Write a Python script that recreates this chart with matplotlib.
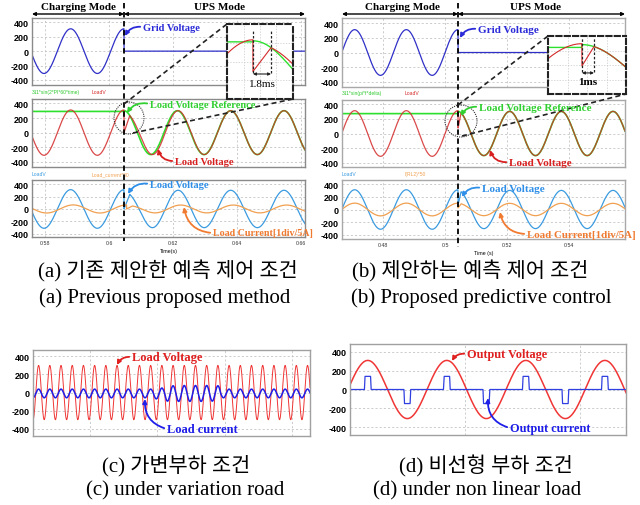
import numpy as np
import matplotlib
matplotlib.use("Agg")
import matplotlib.pyplot as plt
from matplotlib.patches import Ellipse

W, H = 640, 506
SERIF = ["Liberation Serif", "DejaVu Serif"]
SANS = ["Liberation Sans", "DejaVu Sans"]
CAPTION = ["Liberation Serif", "Noto Sans CJK KR"]

YTICKS = [-400, -200, 0, 200, 400]
FREQ = 60.0

# (a) previous method
A_T = (0.57594, 0.66125)
A_TB = 0.60469            # charging -> UPS
A_VPEAK = 310
A_REF_FLAT = 290
A_REF_PEAK = 300
A_RECOVER = 0.0018        # 1.8 ms
A_DROP = 0
A_LAG = 0.0006
A_IPEAK = 65
A_IDELAY = 0.0008
A_XTICKS = [0.58, 0.60, 0.62, 0.64, 0.66]
A_XLABELS = ["0.58", "0.6", "0.62", "0.64", "0.66"]

# (b) proposed method
B_T = (0.46677, 0.55806)
B_TB = 0.50419
B_VPEAK = 310
B_REF_FLAT = 270
B_REF_PEAK = 300
B_RECOVER = 0.001         # 1 ms
B_DROP = 70
B_LAG = 0.0
B_IPEAK = 100
B_IDELAY = 0.0
B_XTICKS = [0.48, 0.50, 0.52, 0.54]
B_XLABELS = ["0.48", "0.5", "0.52", "0.54"]

# (c) variable load
C_DUR = 0.412
C_VPEAK = 300
C_IOFFSET = -10
C_IAMP = [48, 48, 48, 48, 48, 48, 48, 48, 48, 48, 48, 60,
          85, 88, 88, 88, 85, 48, 48, 48, 48, 48, 48, 48, 48]
C_GRID = [0.085, 0.185, 0.285, 0.385]

# (d) non-linear load
D_DUR = 0.0582
D_T0 = 0.00042
D_VPEAK = 310
D_PULSE = [140, -150, 140, -150, 140, -150, 140]
D_GRID = [0.0243, 0.0485]

LAG_TAU = 0.005

fig = plt.figure(figsize=(6.4, 5.06), dpi=100)


def px_axes(x0, y0, x1, y1, z=1):
    ax = fig.add_axes([x0 / W, 1 - y1 / H, (x1 - x0) / W, (y1 - y0) / H])
    ax.set_zorder(z)
    return ax


def style_panel(ax, xlim, ylim, xgrid, frame="#999999"):
    ax.set_xlim(*xlim)
    ax.set_ylim(*ylim)
    ax.set_yticks(YTICKS)
    ax.set_yticklabels([str(v) for v in YTICKS], fontsize=6.5,
                       fontweight="bold", family=SANS)
    ax.set_xticks(xgrid)
    ax.set_xticklabels([])
    ax.tick_params(length=0, pad=2.5)
    ax.grid(True, color="#c4c4c4", lw=0.6, ls=(0, (2.5, 2.5)))
    for s in ax.spines.values():
        s.set_color(frame)
        s.set_linewidth(1)


def grid_voltage(t, tb, vpk):
    return np.where(t < tb, vpk * np.cos(2 * np.pi * FREQ * (t - tb)), 0.0)


def reference(t, tb, flat, ref_pk):
    return np.where(t < tb, flat, ref_pk * np.cos(2 * np.pi * FREQ * (t - tb)))


def load_voltage(t, tb, vpk, ref_pk, t_rec, v_drop, lag_pk):
    v = vpk * np.cos(2 * np.pi * FREQ * (t - tb))
    v_end = ref_pk * np.cos(2 * np.pi * FREQ * t_rec)
    ramp = (t >= tb) & (t < tb + t_rec)
    v[ramp] = v_drop + (v_end - v_drop) * (t[ramp] - tb) / t_rec
    after = t >= tb + t_rec
    x = (t[after] - tb - t_rec) / LAG_TAU
    lag = lag_pk * x * np.exp(1 - x)
    v[after] = ref_pk * np.cos(2 * np.pi * FREQ * (t[after] - tb - lag))
    return v


def draw_set(boxes, trange, tb, vpk, flat, ref_pk, t_rec, drop, lag, ipk, idelay,
             ylims, xticks, xlabels, inset_box, inset_win, inset_ylim, legends,
             frame):
    t = np.linspace(trange[0], trange[1], 4000)
    vg = grid_voltage(t, tb, vpk)
    vr = reference(t, tb, flat, ref_pk)
    vl = load_voltage(t, tb, vpk, ref_pk, t_rec, drop, lag)
    il = ipk / vpk * load_voltage(t - idelay, tb, vpk, ref_pk, t_rec, drop, lag)

    ax1 = px_axes(*boxes[0])
    ax1.plot(t, vg, color="#3030c8", lw=0.9)
    style_panel(ax1, trange, ylims[0], xticks, frame)

    ax2 = px_axes(*boxes[1])
    ax2.plot(t, vr, color="#2ee02e", lw=1.2)
    ax2.plot(t, vl, color="#d42a2a", lw=0.9, alpha=0.85)
    style_panel(ax2, trange, ylims[1], xticks, frame)

    ax3 = px_axes(*boxes[2])
    ax3.plot(t, vl, color="#3b9be0", lw=0.9)
    ax3.plot(t, il, color="#f0a050", lw=0.9)
    style_panel(ax3, trange, ylims[2], xticks, frame)
    ax3.set_xticklabels(xlabels, fontsize=3.8, color="#333333", family=SANS)
    ax3.set_xlabel(legends[4], fontsize=3.8, labelpad=1.5, family=SANS)

    for ax, (txt1, col1), (txt2, col2) in ((ax2, legends[0], legends[1]),
                                           (ax3, legends[2], legends[3])):
        ax.text(0.0, 1.07, txt1, color=col1, fontsize=3.6, family=SANS,
                transform=ax.transAxes, va="bottom")
        ax.text(0.22, 1.07, txt2, color=col2, fontsize=3.6, family=SANS,
                transform=ax.transAxes, va="bottom")

    # zoomed view around the mode change
    ins = px_axes(*inset_box, z=5)
    ti = np.linspace(tb - inset_win[0], tb + inset_win[1], 600)
    ins.plot(ti, reference(ti, tb, flat, ref_pk), color="#2ee02e", lw=1.0)
    ins.plot(ti, load_voltage(ti, tb, vpk, ref_pk, t_rec, drop, lag),
             color="#d42a2a", lw=0.8)
    ins.set_xlim(ti[0], ti[-1])
    ins.set_ylim(*inset_ylim)
    ins.set_xticks(np.linspace(ti[0], ti[-1], 5)[1:-1])
    ins.set_yticks(np.linspace(inset_ylim[0], inset_ylim[1], 5)[1:-1])
    ins.tick_params(length=0, labelbottom=False, labelleft=False)
    ins.grid(True, color="#c8c8c8", lw=0.5, ls=(0, (2, 2)))
    for s in ins.spines.values():
        s.set_color("#222222")
        s.set_linewidth(1.5)
        s.set_linestyle((0, (2.5, 1.5)))
    return ins, ax1, ax2, ax3


ins_a, a1, a2, a3 = draw_set(
    [(32, 19, 305, 86), (32, 100, 305, 168), (32, 181, 305, 238)],
    A_T, A_TB, A_VPEAK, A_REF_FLAT, A_REF_PEAK, A_RECOVER, A_DROP, A_LAG,
    A_IPEAK, A_IDELAY,
    [(-470, 460), (-470, 460), (-450, 465)], A_XTICKS, A_XLABELS,
    (227, 25, 293, 100), (0.0026, 0.0040), (-270, 465),
    [("311*sin(2*PI*60*time)", "#2ec82e"), ("LoadV", "#d42a2a"),
     ("LoadV", "#3b9be0"), ("Load_current*80", "#f0a050"), "Time(s)"],
    "#8a8a8a")

ins_b, b1, b2, b3 = draw_set(
    [(342, 19, 625, 88), (342, 101, 625, 168), (342, 181, 625, 240)],
    B_T, B_TB, B_VPEAK, B_REF_FLAT, B_REF_PEAK, B_RECOVER, B_DROP, B_LAG,
    B_IPEAK, B_IDELAY,
    [(-468, 468), (-455, 455), (-463, 463)], B_XTICKS, B_XLABELS,
    (548, 37, 626, 95), (0.00283, 0.00367), (-232, 393),
    [("311*sin(pi*f*delta)", "#2ec82e"), ("LoadV", "#d42a2a"),
     ("LoadV", "#3b9be0"), ("I(RL2)*50", "#f0a050"), "Time (s)"],
    "#a8a8a8")

# recovery-time markers in the insets
for ins, tb, rec, lo, hi, ya, yt, txt in (
        (ins_a, A_TB, A_RECOVER, -15, 400, -25, -120, "1.8ms"),
        (ins_b, B_TB, B_RECOVER, 10, 370, -5, -100, "1ms")):
    for tx in (tb, tb + rec):
        ins.plot([tx, tx], [lo, hi], color="#222222", lw=0.9, ls=(0, (2, 1.5)))
    ins.annotate("", xy=(tb, ya), xytext=(tb + rec, ya),
                 arrowprops=dict(arrowstyle="<|-|>", color="#222222", lw=0.8,
                                 mutation_scale=4, shrinkA=0, shrinkB=0))
    ins.text(tb + rec / 2, yt, txt, ha="center", va="center", fontsize=8,
             fontweight="bold" if txt == "1ms" else "normal", family=SERIF)

# (c) variable load
tc = np.linspace(0, C_DUR, 8000)
cyc = np.clip(np.floor(tc * FREQ + 0.25).astype(int), 0, len(C_IAMP) - 1)
vc = -C_VPEAK * np.cos(2 * np.pi * FREQ * tc)
ic = C_IOFFSET - np.array(C_IAMP)[cyc] * np.cos(2 * np.pi * FREQ * tc)
axc = px_axes(33, 351, 310, 437)
axc.plot(tc, vc, color="#f03535", lw=0.7)
axc.plot(tc, ic, color="#1e1ee8", lw=1.1)
style_panel(axc, (0, C_DUR), (-480, 470), C_GRID, "#a0a0a0")

# (d) non-linear load
td = np.linspace(0, D_DUR, 4000)
sd = np.sin(2 * np.pi * FREQ * (td + D_T0))
vd = D_VPEAK * sd
half = np.clip(np.floor((td + D_T0) * 2 * FREQ).astype(int), 0, len(D_PULSE) - 1)
shape = np.clip((np.abs(sd) - 0.965) / 0.01, 0, 1)
idd = np.array(D_PULSE)[half] * shape
axd = px_axes(350, 345, 626, 436)
axd.plot(td, vd, color="#f03535", lw=1.1)
axd.plot(td, idd, color="#3040e0", lw=0.9)
style_panel(axd, (0, D_DUR), (-485, 485), D_GRID, "#a0a0a0")

# overlay in pixel coordinates for annotations
ov = fig.add_axes([0, 0, 1, 1])
ov.set_xlim(0, W)
ov.set_ylim(H, 0)
ov.axis("off")
ov.set_zorder(10)
ov.patch.set_visible(False)


def tb_px(tb, trange, x0, x1):
    return x0 + (tb - trange[0]) / (trange[1] - trange[0]) * (x1 - x0)


xa = tb_px(A_TB, A_T, 32, 305)
xb = tb_px(B_TB, B_T, 342, 625)

for xl, xm, xr, ybot, cx, ux in ((32, xa, 305, 242, 78, 219),
                                 (342, xb, 625, 248, 402, 535)):
    ov.plot([xm, xm], [4, ybot], color="black", lw=1.3, ls=(0, (3, 2)))
    for s, e in ((xl, xm), (xm, xr)):
        ov.annotate("", xy=(s, 15), xytext=(e, 15),
                    arrowprops=dict(arrowstyle="<|-|>", color="black", lw=1,
                                    mutation_scale=5, shrinkA=0, shrinkB=0))
    ov.text(cx, 7, "Charging Mode", ha="center", va="center", fontsize=8,
            fontweight="bold", family=SERIF)
    ov.text(ux, 7, "UPS Mode", ha="center", va="center",
            fontsize=8, fontweight="bold", family=SERIF)

# zoom circles and connector lines
for (ex, ey, ew, eh), l1, l2 in (((xa + 5, 119, 30, 32), ((xa, 105), (227, 25)),
                                  ((xa + 9, 134), (293, 100))),
                                 ((xb + 3, 122, 32, 32), ((xb, 106), (548, 37)),
                                  ((xb + 4, 137), (626, 95)))):
    ov.add_patch(Ellipse((ex, ey), ew, eh, fill=False, ec="#333333", lw=0.8,
                         ls=(0, (1, 1))))
    for p, q in (l1, l2):
        ov.plot([p[0], q[0]], [p[1], q[1]], color="#222222", lw=1.2,
                ls=(0, (3, 2)))


def label(text, xy_text, xy_arrow, color, size, rad=0.35):
    ov.annotate(text, xy=xy_arrow, xytext=xy_text, color=color, fontsize=size,
                fontweight="bold", family=SERIF, ha="left", va="center",
                arrowprops=dict(arrowstyle="-|>", color=color, lw=1.3,
                                mutation_scale=6, shrinkA=0, shrinkB=0,
                                relpos=(0, 0.5),
                                connectionstyle=f"arc3,rad={rad}"))


label("Grid Voltage", (143, 28), (xa + 1, 37), "#2a2ad8", 7.5)
label("Load Voltage Reference", (150, 105), (xa + 3, 114), "#30d030", 7.5)
label("Load Voltage", (175, 162), (158, 150), "#d82020", 7.5, -0.4)
label("Load Voltage", (150, 185), (xa + 4, 195), "#2f8fe8", 7.5)
label("Load Current[1div/5A]", (213, 234), (184, 208), "#f07a30", 7.2, -0.4)

label("Grid Voltage", (478, 30), (xb + 2, 39), "#2a2ad8", 8)
label("Load Voltage Reference", (479, 108), (xb + 3, 117), "#30d030", 8)
label("Load Voltage", (509, 163), (490, 151), "#d82020", 8, -0.4)
label("Load Voltage", (482, 189), (xb + 4, 198), "#2f8fe8", 8)
label("Load Current[1div/5A]", (527, 235), (500, 213), "#f07a30", 7.8, -0.4)

label("Load Voltage", (132, 358), (117, 366), "#e02020", 9)
label("Load current", (167, 430), (145, 400), "#1e1ee8", 9, -0.4)
label("Output Voltage", (467, 355), (452, 362), "#e02020", 8.8)
label("Output current", (510, 429), (488, 399), "#1e1ee8", 8.8, -0.4)

# captions
for x, y, txt in ((168, 271, "(a) 기존 제안한 예측 제어 조건"),
                  (165, 298, "(a) Previous proposed method"),
                  (470, 271, "(b) 제안하는 예측 제어 조건"),
                  (481, 298, "(b) Proposed predictive control"),
                  (176, 466, "(c) 가변부하 조건"),
                  (185, 491, "(c) under variation road"),
                  (486, 466, "(d) 비선형 부하 조건"),
                  (477, 491, "(d) under non linear load")):
    ov.text(x, y, txt, ha="center", va="center", fontsize=15, family=CAPTION,
            fontweight="light")

fig.savefig("out.png", dpi=100, facecolor="white")
